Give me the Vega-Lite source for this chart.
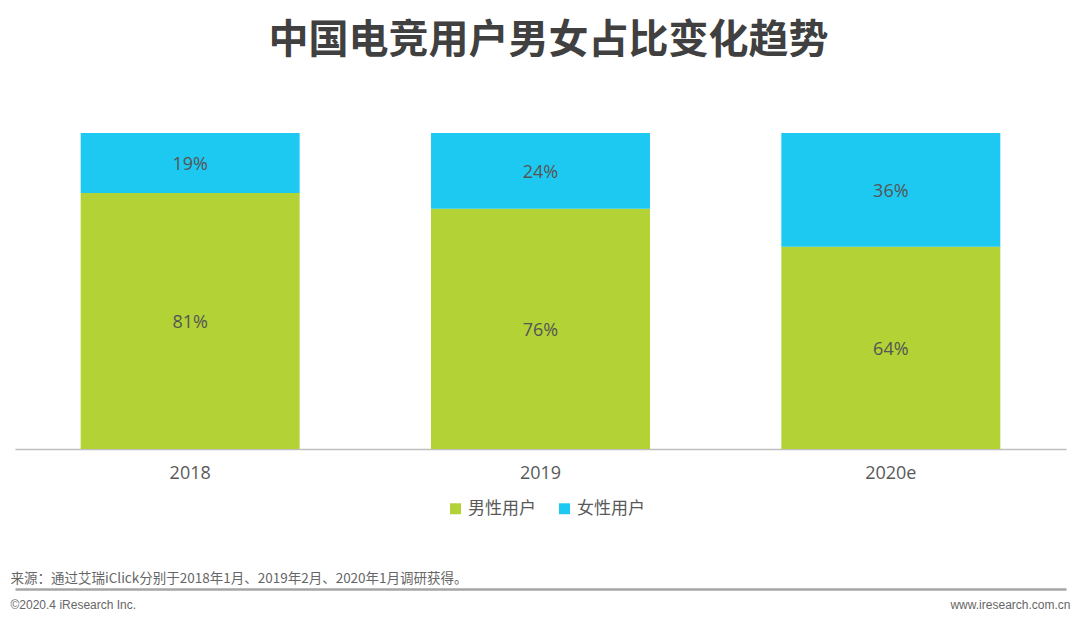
{
  "$schema": "https://vega.github.io/schema/vega-lite/v6.json",
  "autosize": "none",
  "width": 1051,
  "height": 316,
  "padding": {"left": 15, "top": 133, "right": 14, "bottom": 175},
  "background": "white",
  "config": {"view": {"stroke": null}},
  "title": {
    "text": "中国电竞用户男女占比变化趋势",
    "font": "Noto Sans CJK SC",
    "fontSize": 40,
    "fontWeight": "bold",
    "color": "#404040",
    "anchor": "middle",
    "frame": "group",
    "offset": 72,
    "dx": 8
  },
  "data": {
    "values": [
      {"year": "2018", "gender": "男性用户", "value": 81, "label": "81%", "order": 1},
      {"year": "2018", "gender": "女性用户", "value": 19, "label": "19%", "order": 2},
      {"year": "2019", "gender": "男性用户", "value": 76, "label": "76%", "order": 1},
      {"year": "2019", "gender": "女性用户", "value": 24, "label": "24%", "order": 2},
      {"year": "2020e", "gender": "男性用户", "value": 64, "label": "64%", "order": 1},
      {"year": "2020e", "gender": "女性用户", "value": 36, "label": "36%", "order": 2}
    ]
  },
  "transform": [
    {"stack": "value", "groupby": ["year"], "sort": [{"field": "order", "order": "ascending"}], "as": ["v0", "v1"]}
  ],
  "layer": [
    {
      "mark": {"type": "bar"},
      "encoding": {
        "x": {
          "field": "year", "type": "nominal", "sort": null,
          "scale": {"paddingInner": 0.375, "paddingOuter": 0.1875},
          "axis": {
            "orient": "bottom",
            "title": "来源：通过艾瑞iClick分别于2018年1月、2019年2月、2020年1月调研获得。",
            "titleFont": "Noto Sans CJK SC",
            "titleFontSize": 13.5,
            "titleFontWeight": "normal",
            "titleColor": "#666666",
            "titleAnchor": "start",
            "titleAlign": "left",
            "titleBaseline": "middle",
            "titleX": -5,
            "titleY": 129,
            "labelAngle": 0,
            "labelFont": "Open Sans",
            "labelFontSize": 18,
            "labelColor": "#595959",
            "labelPadding": 15,
            "ticks": false,
            "domainColor": "#bfbfbf",
            "domainWidth": 1.5
          }
        },
        "y": {
          "field": "v0", "type": "quantitative",
          "scale": {"domain": [0, 100], "nice": false},
          "axis": {
            "orient": "left",
            "title": "©2020.4 iResearch Inc.",
            "titleFont": "Liberation Sans",
            "titleFontSize": 12,
            "titleFontWeight": "normal",
            "titleColor": "#666666",
            "titleAngle": 0,
            "titleAlign": "left",
            "titleBaseline": "middle",
            "titleAnchor": null,
            "titleX": -5,
            "titleY": 471,
            "labels": false,
            "ticks": false,
            "domain": false,
            "grid": false
          }
        },
        "y2": {"field": "v1"},
        "color": {
          "field": "gender", "type": "nominal",
          "sort": ["男性用户", "女性用户"],
          "scale": {"domain": ["男性用户", "女性用户"], "range": ["#b2d235", "#1ec9f1"]},
          "legend": {
            "title": null,
            "orient": "none",
            "direction": "horizontal",
            "legendX": 432,
            "legendY": 367,
            "symbolType": "square",
            "symbolSize": 120,
            "symbolStrokeWidth": 0,
            "labelFont": "Noto Sans CJK SC",
            "labelFontSize": 17,
            "labelColor": "#595959",
            "labelOffset": 4,
            "columnPadding": 20
          }
        }
      }
    },
    {
      "transform": [
        {"fold": ["v0", "v1"], "as": ["edge", "pos"]},
        {"aggregate": [{"op": "mean", "field": "pos", "as": "mid"}], "groupby": ["year", "gender", "label"]}
      ],
      "mark": {"type": "text", "font": "Open Sans", "fontSize": 18, "color": "#555555", "baseline": "middle", "dy": 2},
      "encoding": {
        "x": {
          "field": "year", "type": "nominal", "sort": null,
          "scale": {"paddingInner": 0.375, "paddingOuter": 0.1875},
          "axis": {
            "orient": "bottom",
            "title": null,
            "labels": false,
            "ticks": false,
            "offset": 140,
            "domainColor": "#a6a6a6",
            "domainWidth": 2.5
          }
        },
        "y": {
          "field": "mid", "type": "quantitative",
          "scale": {"domain": [0, 100], "nice": false},
          "axis": {
            "orient": "right",
            "title": "www.iresearch.com.cn",
            "titleFont": "Liberation Sans",
            "titleFontSize": 12,
            "titleFontWeight": "normal",
            "titleColor": "#666666",
            "titleAngle": 0,
            "titleAlign": "right",
            "titleBaseline": "middle",
            "titleAnchor": null,
            "titleX": 4,
            "titleY": 471,
            "labels": false,
            "ticks": false,
            "domain": false,
            "grid": false
          }
        },
        "text": {"field": "label", "type": "nominal"}
      }
    }
  ],
  "resolve": {"scale": {"x": "independent", "y": "independent"}, "axis": {"x": "independent", "y": "independent"}}
}
